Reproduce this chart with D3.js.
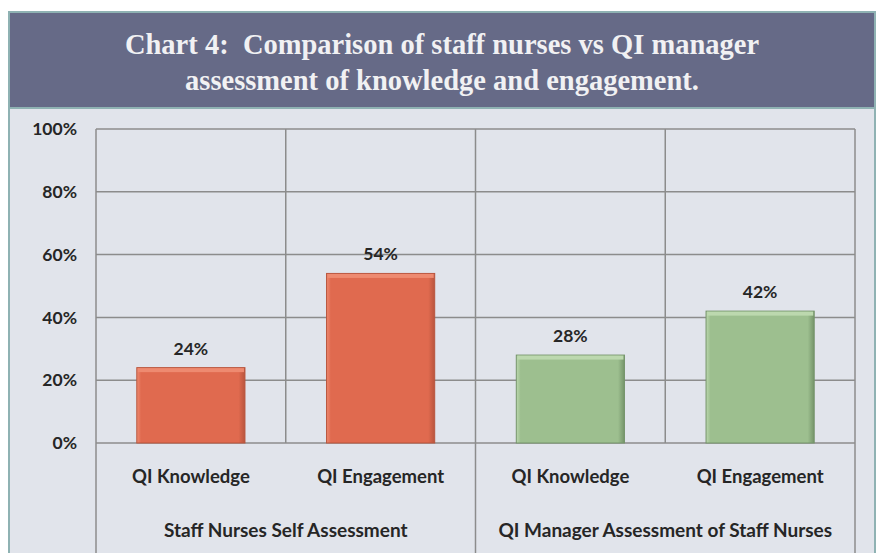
<!DOCTYPE html>
<html>
<head>
<meta charset="utf-8">
<script src="https://cdn.jsdelivr.net/npm/d3@7"></script>
<style>
  html, body { margin: 0; padding: 0; background: #ffffff; }
  svg { display: block; }
</style>
</head>
<body>
<script>
"use strict";

// Data.
const titleLines = ["Chart 4:  Comparison of staff nurses vs QI manager",
  "assessment of knowledge and engagement."];
const groups = ["Staff Nurses Self Assessment", "QI Manager Assessment of Staff Nurses"];
const categories = ["QI Knowledge", "QI Engagement", "QI Knowledge", "QI Engagement"];
const categoryGroup = [0, 0, 1, 1];
const values = [0.24, 0.54, 0.28, 0.42];
const yTicks = [0, 0.2, 0.4, 0.6, 0.8, 1];

// Layout.
var width = 877,
  height = 553;
var frame = {left: 10, right: 874, top: 13, bandBottom: 107};
var plot = {left: 96, right: 855, top: 129, bottom: 443};

var svg = d3.select("body").append("svg")
  .attr("width", width)
  .attr("height", height);

var defs = svg.append("defs");

// Bevel gradients for the bars (orange for staff, green for managers).
var palettes = [
  {id: "g0", edge: "#b9553d", mid: "#e06a4f", light: "#ee8a70"},
  {id: "g1", edge: "#75946a", mid: "#9dbf8f", light: "#bcd8ae"}
];
palettes.forEach(function(p) {
  var g = defs.append("linearGradient").attr("id", p.id)
    .attr("x1", 0).attr("x2", 1).attr("y1", 0).attr("y2", 0);
  g.append("stop").attr("offset", "0%").attr("stop-color", p.light);
  g.append("stop").attr("offset", "4%").attr("stop-color", p.mid);
  g.append("stop").attr("offset", "94%").attr("stop-color", p.mid);
  g.append("stop").attr("offset", "100%").attr("stop-color", p.edge);
});

// Outer frame and chart background.
svg.append("rect")
  .attr("x", frame.left - 2).attr("y", frame.top - 2)
  .attr("width", frame.right - frame.left + 4).attr("height", height - frame.top + 4)
  .attr("fill", "#8fb2b3");
svg.append("rect")
  .attr("x", frame.left).attr("y", frame.bandBottom + 2)
  .attr("width", frame.right - frame.left).attr("height", height - frame.bandBottom)
  .attr("fill", "#e1e4eb");

// Title band.
svg.append("rect")
  .attr("x", frame.left).attr("y", frame.top)
  .attr("width", frame.right - frame.left).attr("height", frame.bandBottom - frame.top)
  .attr("fill", "#666a87");

svg.append("g").selectAll("text")
  .data(titleLines)
  .enter().append("text")
  .attr("x", (frame.left + frame.right) / 2)
  .attr("y", function(d, i) { return 54 + i * 36; })
  .attr("text-anchor", "middle")
  .attr("font-family", "'Liberation Serif', 'DejaVu Serif', serif")
  .attr("font-weight", "bold")
  .attr("font-size", 28.5)
  .attr("fill", "#f1f1f3")
  .style("white-space", "pre")
  .text(function(d) { return d; });

// Scales.
var x = d3.scaleBand()
  .domain(d3.range(categories.length))
  .range([plot.left, plot.right])
  .padding(0);
var xGroup = d3.scaleBand()
  .domain(d3.range(groups.length))
  .range([plot.left, plot.right])
  .padding(0);
var y = d3.scaleLinear()
  .domain([0, 1])
  .range([plot.bottom, plot.top]);

var gridColor = "#8c8c8c";
var labelFont = "Lato, 'Open Sans', sans-serif";
var textColor = "#262626";

// Horizontal gridlines.
svg.append("g").selectAll("line")
  .data(yTicks)
  .enter().append("line")
  .attr("x1", plot.left).attr("x2", plot.right)
  .attr("y1", function(d) { return y(d); })
  .attr("y2", function(d) { return y(d); })
  .attr("stroke", gridColor)
  .attr("stroke-width", 1.5);

// Vertical gridlines between categories (plot area only).
svg.append("g").selectAll("line")
  .data(d3.range(categories.length + 1))
  .enter().append("line")
  .attr("x1", function(i) { return i < categories.length ? x(i) : plot.right; })
  .attr("x2", function(i) { return i < categories.length ? x(i) : plot.right; })
  .attr("y1", plot.top)
  .attr("y2", plot.bottom)
  .attr("stroke", gridColor)
  .attr("stroke-width", 1.5);

// Group separators run down through the label area.
svg.append("g").selectAll("line")
  .data(d3.range(groups.length + 1))
  .enter().append("line")
  .attr("x1", function(i) { return i < groups.length ? xGroup(i) : plot.right; })
  .attr("x2", function(i) { return i < groups.length ? xGroup(i) : plot.right; })
  .attr("y1", plot.bottom)
  .attr("y2", height)
  .attr("stroke", gridColor)
  .attr("stroke-width", 1.5);

// Y axis tick labels.
svg.append("g").selectAll("text")
  .data(yTicks)
  .enter().append("text")
  .attr("x", 77)
  .attr("y", function(d) { return y(d); })
  .attr("dy", "0.35em")
  .attr("text-anchor", "end")
  .attr("font-family", labelFont)
  .attr("font-weight", "bold")
  .attr("font-size", 17.5)
  .attr("fill", textColor)
  .text(d3.format(".0%"));

// Bars.
var barW = x.bandwidth() * 0.57;
var bars = svg.append("g").selectAll("g")
  .data(values)
  .enter().append("g");

bars.append("rect")
  .attr("x", function(d, i) { return x(i) + (x.bandwidth() - barW) / 2; })
  .attr("y", function(d) { return y(d); })
  .attr("width", barW)
  .attr("height", function(d) { return y(0) - y(d); })
  .attr("fill", function(d, i) { return "url(#g" + categoryGroup[i] + ")"; })
  .attr("stroke", function(d, i) { return palettes[categoryGroup[i]].edge; })
  .attr("stroke-width", 1);

// Light top bevel.
bars.append("rect")
  .attr("x", function(d, i) { return x(i) + (x.bandwidth() - barW) / 2 + 1; })
  .attr("y", function(d) { return y(d) + 0.5; })
  .attr("width", barW - 2)
  .attr("height", 4)
  .attr("fill", function(d, i) { return palettes[categoryGroup[i]].light; });

// Value labels.
bars.append("text")
  .attr("x", function(d, i) { return x(i) + x.bandwidth() / 2; })
  .attr("y", function(d) { return y(d) - 13; })
  .attr("text-anchor", "middle")
  .attr("font-family", labelFont)
  .attr("font-weight", "bold")
  .attr("font-size", 17.5)
  .attr("fill", textColor)
  .text(function(d) { return d3.format(".0%")(d); });

// Category labels.
svg.append("g").selectAll("text")
  .data(categories)
  .enter().append("text")
  .attr("x", function(d, i) { return x(i) + x.bandwidth() / 2; })
  .attr("y", 483)
  .attr("text-anchor", "middle")
  .attr("font-family", labelFont)
  .attr("font-weight", "bold")
  .attr("font-size", 18.5)
  .attr("fill", textColor)
  .text(function(d) { return d; });

// Group labels.
svg.append("g").selectAll("text")
  .data(groups)
  .enter().append("text")
  .attr("x", function(d, i) { return xGroup(i) + xGroup.bandwidth() / 2; })
  .attr("y", 537)
  .attr("text-anchor", "middle")
  .attr("font-family", labelFont)
  .attr("font-weight", "bold")
  .attr("font-size", 19)
  .attr("fill", textColor)
  .text(function(d) { return d; });
</script>
</body>
</html>
